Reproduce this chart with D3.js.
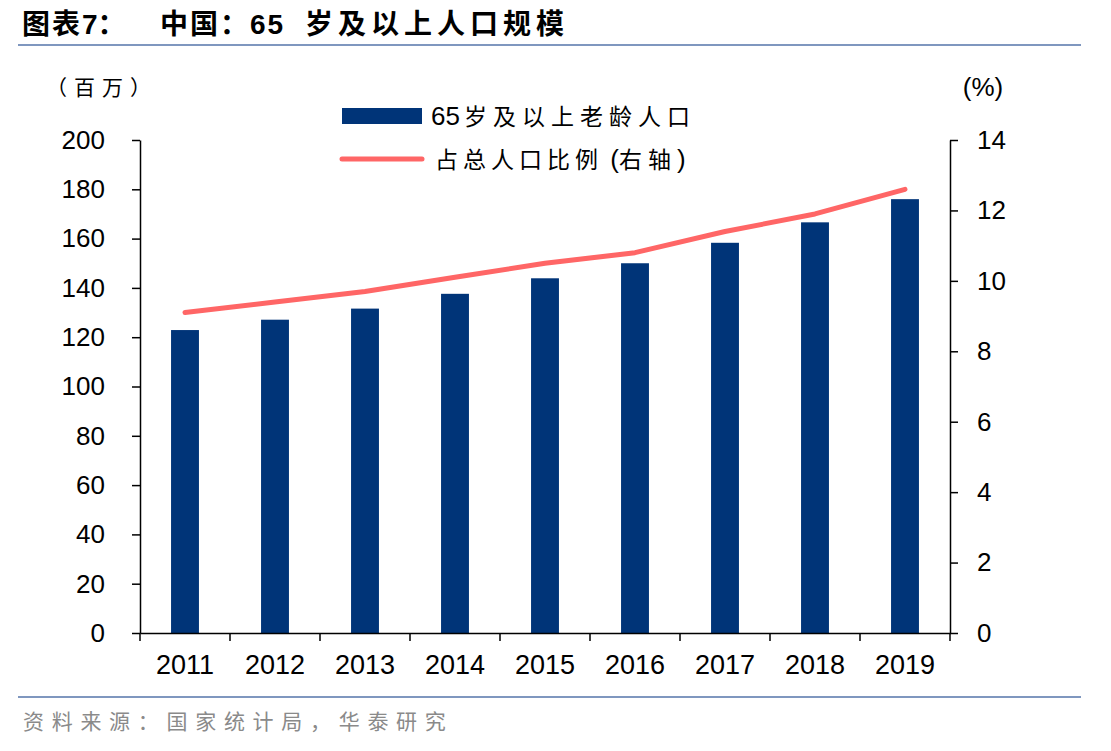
<!DOCTYPE html>
<html><head><meta charset="utf-8">
<script src="https://cdn.jsdelivr.net/npm/d3@7"></script>
<style>body{margin:0;background:#fff;}svg{display:block;}</style>
</head><body><svg id="c" width="1111" height="751"></svg>
<script>
const years = ["2011","2012","2013","2014","2015","2016","2017","2018","2019"];
const elderly = [122.9, 127.1, 131.6, 137.6, 143.9, 150.0, 158.3, 166.6, 176.0];
const share = [9.1, 9.4, 9.7, 10.1, 10.5, 10.8, 11.4, 11.9, 12.6];
const leftTicks = [0,20,40,60,80,100,120,140,160,180,200];
const rightTicks = [0,2,4,6,8,10,12,14];

const svg = d3.select("#c");
const L = 140, R = 950, T = 140, B = 633;
const font = "Arial, 'Liberation Sans', 'Noto Sans CJK SC', sans-serif";
const cjk = "'Noto Sans CJK SC', sans-serif";
const bfont = "'Liberation Sans', Arial, 'Noto Sans CJK SC', sans-serif";

function seg(parent, x, txt, size, ls, fam) {
  const t = parent.append("tspan").attr("font-size",size).attr("letter-spacing",ls).attr("font-family",fam||bfont).text(txt);
  if (x!=null) t.attr("x",x);
  return t;
}
// title
const title = svg.append("text").attr("y",34).attr("font-weight","bold").attr("fill","#000");
seg(title, 22, "图表", 28, 2);
seg(title, null, "7：", 28, 0);
seg(title, 160, "中国：", 28, 2);
seg(title, null, "65", 28, 2);
seg(title, 305, "岁及以上人口规模", 28, 5);

svg.append("line").attr("x1",18).attr("x2",1081).attr("y1",45).attr("y2",45).attr("stroke","#7f97bf").attr("stroke-width",2);
svg.append("line").attr("x1",18).attr("x2",1081).attr("y1",697).attr("y2",697).attr("stroke","#7f97bf").attr("stroke-width",2);
svg.append("text").attr("x",23).attr("y",729).attr("font-family",cjk).attr("font-size",21).attr("fill","#8a8a8a").attr("letter-spacing",7.7)
  .text("资料来源：国家统计局，华泰研究");

const x = d3.scaleBand().domain(years).range([L,R]).paddingInner(0.69).paddingOuter(0.345);
const xb = d3.scaleBand().domain(years).range([L,R]);
const yL = d3.scaleLinear().domain([0,200]).range([B,T]);
const yR = d3.scaleLinear().domain([0,14]).range([B,T]);

// bars
svg.append("g").selectAll("rect").data(years).join("rect")
  .attr("x", d=>x(d)).attr("width", x.bandwidth())
  .attr("y", (d,i)=>yL(elderly[i])).attr("height",(d,i)=>B-yL(elderly[i]))
  .attr("fill","#003478");

// line
const line = d3.line().x((d,i)=>xb(years[i])+xb.bandwidth()/2).y(d=>yR(d));
svg.append("path").datum(share).attr("d",line).attr("fill","none")
  .attr("stroke","#ff6666").attr("stroke-width",5).attr("stroke-linecap","round").attr("stroke-linejoin","round");

// axes
const gl = svg.append("g").attr("transform",`translate(${L},0)`)
  .call(d3.axisLeft(yL).tickValues(leftTicks).tickSize(8).tickPadding(27).tickSizeOuter(0));
const gr = svg.append("g").attr("transform",`translate(${R},0)`)
  .call(d3.axisRight(yR).tickValues(rightTicks).tickSize(8).tickPadding(19).tickSizeOuter(0));
const gb = svg.append("g").attr("transform",`translate(0,${B})`)
  .call(d3.axisBottom(xb).tickSize(0).tickPadding(22).tickSizeOuter(0));
// category boundary ticks
const bounds = years.map(d=>xb(d)).concat([R]);
svg.append("g").selectAll("line").data(bounds).join("line")
  .attr("x1",d=>d).attr("x2",d=>d).attr("y1",B).attr("y2",B+8).attr("stroke","#000").attr("stroke-width",1.5);

[gl,gr,gb].forEach(g=>{
  g.selectAll("path").attr("stroke","#000").attr("stroke-width",1.5);
  g.selectAll("line").attr("stroke","#000").attr("stroke-width",1.5);
  g.selectAll("text").attr("font-family",font).attr("font-size",26).attr("fill","#000");
});
gb.selectAll("text").attr("font-size",27).attr("dy","0.71em");

// unit labels
svg.append("text").attr("x",46).attr("y",95).attr("font-family",cjk).attr("font-size",21).attr("letter-spacing",7).attr("fill","#000").text("（百万）");
svg.append("text").attr("x",983).attr("y",96).attr("text-anchor","middle").attr("font-family",font).attr("font-size",26).attr("fill","#000").text("(%)");

// legend
svg.append("rect").attr("x",342).attr("y",108).attr("width",80).attr("height",16).attr("fill","#003478");
const l1 = svg.append("text").attr("x",431).attr("y",125).attr("fill","#000");
seg(l1, null, "65", 26, 0, font);
seg(l1, 464, "岁及以上老龄人口", 23, 6, cjk);
svg.append("line").attr("x1",342).attr("x2",422).attr("y1",159).attr("y2",159).attr("stroke","#ff6666").attr("stroke-width",5).attr("stroke-linecap","round");
const l2 = svg.append("text").attr("x",435).attr("y",168).attr("fill","#000");
seg(l2, null, "占总人口比例", 23, 5, cjk);
seg(l2, null, " (", 26, 0, font);
seg(l2, null, "右轴", 23, 6, cjk);
seg(l2, null, ")", 26, 0, font);
</script></body></html>
